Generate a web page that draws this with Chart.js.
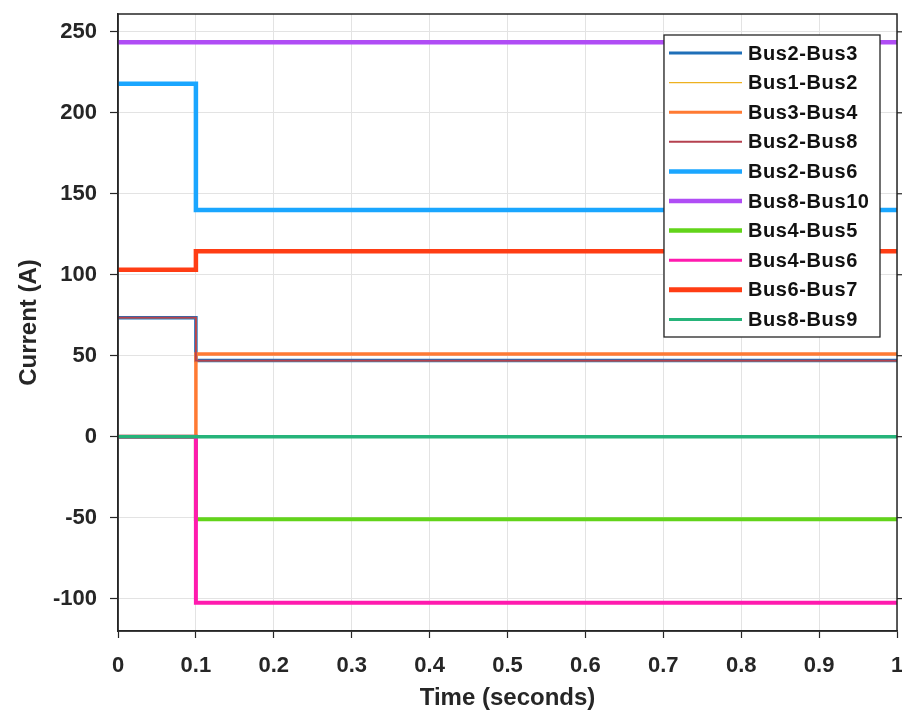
<!DOCTYPE html>
<html>
<head>
<meta charset="utf-8">
<script src="https://cdn.jsdelivr.net/npm/chart.js@4.4.1/dist/chart.umd.min.js"></script>
<style>
  html, body { margin: 0; padding: 0; background: #ffffff; }
  #wrap { width: 902px; height: 718px; position: relative; }
</style>
</head>
<body>
<div id="wrap"><canvas id="c" width="902" height="718"></canvas></div>
<script>
// ---- data ----
const time = [0, 0.1, 0.1, 1];
const seriesNames = ["Bus2-Bus3", "Bus1-Bus2", "Bus3-Bus4", "Bus2-Bus8", "Bus2-Bus6",
                     "Bus8-Bus10", "Bus4-Bus5", "Bus4-Bus6", "Bus6-Bus7", "Bus8-Bus9"];
const bus2Bus3  = [73.5, 73.5, 47, 47];
const bus1Bus2  = [73.5, 73.5, 47, 47];
const bus3Bus4  = [0, 0, 51, 51];
const bus2Bus8  = [73.5, 73.5, 47, 47];
const bus2Bus6  = [218, 218, 140, 140];
const bus8Bus10 = [243.5, 243.5, 243.5, 243.5];
const bus4Bus5  = [0, 0, -51, -51];
const bus4Bus6  = [0, 0, -102.5, -102.5];
const bus6Bus7  = [103, 103, 114.5, 114.5];
const bus8Bus9  = [0, 0, 0, 0];
const xTicks = [0, 0.1, 0.2, 0.3, 0.4, 0.5, 0.6, 0.7, 0.8, 0.9, 1];
const yTicks = [-100, -50, 0, 50, 100, 150, 200, 250];

// ---- styles ----
const seriesValues = [bus2Bus3, bus1Bus2, bus3Bus4, bus2Bus8, bus2Bus6, bus8Bus10, bus4Bus5, bus4Bus6, bus6Bus7, bus8Bus9];
const colors = ["#1f6fb8", "#edb120", "#ff7a33", "#b5414f", "#1aa6ff", "#b04df5", "#62d41a", "#ff1aae", "#ff3d14", "#26b47a"];
const widths = [3.5, 1.2, 3.5, 1.8, 4.5, 4.5, 4, 4, 4.5, 3.5];
const legendWidths = [3, 1.3, 3, 2, 4.5, 4.5, 4.5, 3, 5, 3];
const TXT = "#262626";
const FONT = '"Liberation Sans", Arial, sans-serif';

const datasets = seriesNames.map((name, i) => ({
  label: name,
  data: time.map((t, k) => ({ x: t, y: seriesValues[i][k] })),
  borderColor: colors[i],
  backgroundColor: colors[i],
  borderWidth: widths[i],
  pointRadius: 0,
  tension: 0,
  fill: false,
  order: seriesNames.length - i,
  borderCapStyle: 'butt',
  borderJoinStyle: 'miter'
}));

const framePlugin = {
  id: 'frame',
  afterDatasetsDraw(chart) {
    const { ctx, chartArea: a } = chart;
    ctx.save();
    ctx.strokeStyle = TXT;
    ctx.lineWidth = 1.5;
    ctx.strokeRect(a.left, a.top, a.right - a.left, a.bottom - a.top);
    ctx.lineWidth = 1.2;
    const ys = chart.scales.y;
    yTicks.forEach(v => {
      const py = ys.getPixelForValue(v);
      ctx.beginPath(); ctx.moveTo(a.right, py); ctx.lineTo(a.right + 5, py); ctx.stroke();
    });
    ctx.restore();
  }
};

const legendPlugin = {
  id: 'boxLegend',
  afterDraw(chart) {
    const { ctx, chartArea: a } = chart;
    const bx = a.right - 233, by = a.top + 21, bw = 216, bh = 302;
    ctx.save();
    ctx.fillStyle = '#ffffff';
    ctx.fillRect(bx, by, bw, bh);
    ctx.strokeStyle = TXT;
    ctx.lineWidth = 1.3;
    ctx.strokeRect(bx, by, bw, bh);
    ctx.font = 'bold 20px ' + FONT;
    try { ctx.letterSpacing = '0.6px'; } catch (e) {}
    ctx.textBaseline = 'middle';
    ctx.fillStyle = '#111111';
    seriesNames.forEach((name, i) => {
      const y = by + 18 + i * 29.6;
      ctx.strokeStyle = colors[i];
      ctx.lineWidth = legendWidths[i];
      ctx.beginPath(); ctx.moveTo(bx + 5, y); ctx.lineTo(bx + 78, y); ctx.stroke();
      ctx.fillText(name, bx + 84, y + 1);
    });
    ctx.restore();
  }
};

function zeroPad(s) { s.paddingTop = 0; s.paddingBottom = 0; s.paddingLeft = 0; s.paddingRight = 0; }

new Chart(document.getElementById('c'), {
  type: 'line',
  data: { datasets },
  plugins: [framePlugin, legendPlugin],
  options: {
    responsive: false,
    animation: false,
    devicePixelRatio: 1,
    layout: { padding: { top: 14, right: 5, left: 0, bottom: 0 } },
    plugins: { legend: { display: false }, tooltip: { enabled: false } },
    scales: {
      x: {
        type: 'linear',
        min: 0, max: 1,
        afterBuildTicks: s => { s.ticks = xTicks.map(v => ({ value: v })); },
        afterFit: s => { s.height = 87; zeroPad(s); },
        ticks: {
          color: TXT,
          font: { family: FONT, size: 22, weight: 'bold' },
          padding: 15,
          maxRotation: 0,
          autoSkip: false,
          callback: v => String(Number(v.toFixed(1)))
        },
        grid: { color: '#e3e3e3', lineWidth: 1, tickLength: 7, tickColor: TXT, tickWidth: 1.2 },
        border: { color: TXT, width: 1.5 },
        title: {
          display: true, text: 'Time (seconds)', color: TXT,
          font: { family: FONT, size: 24, weight: 'bold' },
          padding: { top: 0, bottom: 5 }
        }
      },
      y: {
        type: 'linear',
        min: -120, max: 261,
        afterBuildTicks: s => { s.ticks = yTicks.map(v => ({ value: v })); },
        afterFit: s => { s.width = 118; zeroPad(s); },
        ticks: {
          color: TXT,
          font: { family: FONT, size: 22, weight: 'bold' },
          padding: 13,
          autoSkip: false,
          callback: v => String(v)
        },
        grid: { color: '#e3e3e3', lineWidth: 1, tickLength: 8, tickColor: TXT, tickWidth: 1.2 },
        border: { color: TXT, width: 1.5 },
        title: {
          display: true, text: 'Current (A)', color: TXT,
          font: { family: FONT, size: 24, weight: 'bold' },
          padding: { top: 15, bottom: 0 }
        }
      }
    }
  }
});
</script>
</body>
</html>
